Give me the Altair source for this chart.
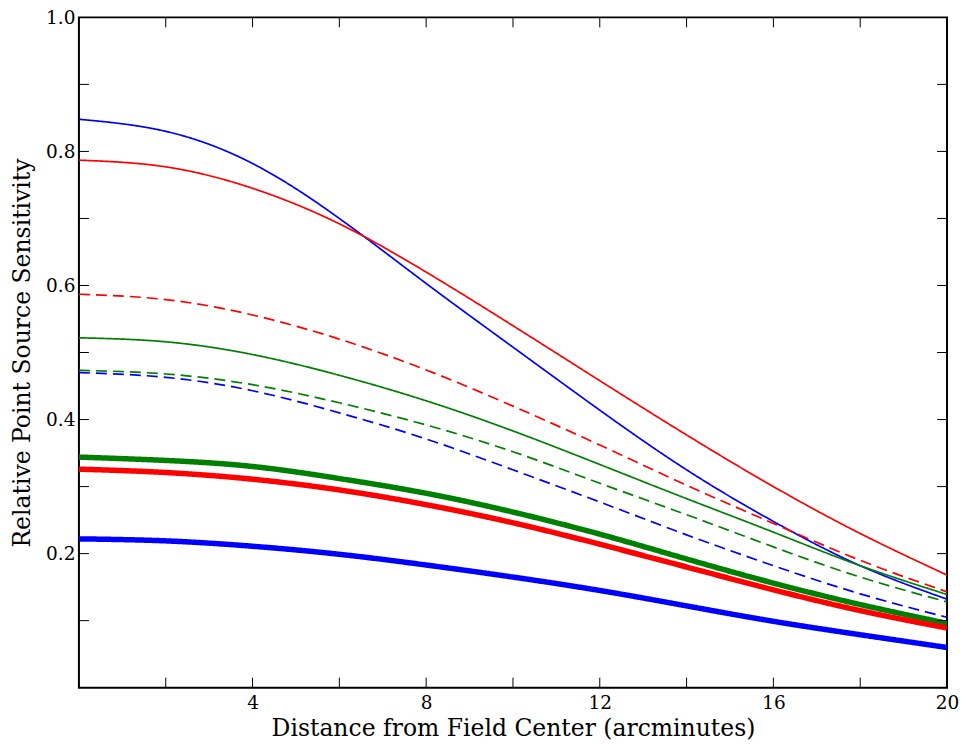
import altair as alt
import pandas as pd

# x positions (arcminutes)
xs = [0, 2, 4, 6, 8, 10, 12, 14, 16, 18, 20]

blue_thin   = [0.848, 0.830, 0.782, 0.700, 0.603, 0.508, 0.414, 0.325, 0.248, 0.182, 0.132]
red_thin    = [0.787, 0.777, 0.745, 0.692, 0.620, 0.540, 0.458, 0.377, 0.300, 0.230, 0.168]
red_dash    = [0.587, 0.579, 0.556, 0.520, 0.474, 0.420, 0.362, 0.302, 0.245, 0.190, 0.143]
green_thin  = [0.522, 0.516, 0.497, 0.466, 0.428, 0.383, 0.333, 0.282, 0.232, 0.182, 0.139]
green_dash  = [0.4735, 0.468, 0.452, 0.425, 0.392, 0.352, 0.305, 0.258, 0.210, 0.165, 0.128]
blue_dash   = [0.470, 0.463, 0.443, 0.410, 0.371, 0.325, 0.277, 0.228, 0.182, 0.140, 0.105]
green_thick = [0.344, 0.339, 0.330, 0.312, 0.290, 0.262, 0.229, 0.192, 0.156, 0.124, 0.096]
red_thick   = [0.326, 0.321, 0.311, 0.295, 0.273, 0.246, 0.214, 0.180, 0.146, 0.115, 0.089]
blue_thick  = [0.222, 0.219, 0.211, 0.199, 0.183, 0.165, 0.145, 0.122, 0.099, 0.079, 0.060]

series_names = ["blue_thin", "red_thin", "red_dash", "green_thin", "green_dash",
                "blue_dash", "green_thick", "red_thick", "blue_thick"]
series_vals = [blue_thin, red_thin, red_dash, green_thin, green_dash,
               blue_dash, green_thick, red_thick, blue_thick]
series_colors = ["#0000ff", "#ff0000", "#ff0000", "#008000", "#008000",
                 "#0000ff", "#008000", "#ff0000", "#0000ff"]
series_dash = [[1, 0], [1, 0], [11, 6], [1, 0], [11, 6], [11, 6], [1, 0], [1, 0], [1, 0]]
thin_series = ["blue_thin", "red_thin", "red_dash", "green_thin", "green_dash", "blue_dash"]
thick_series = ["green_thick", "red_thick", "blue_thick"]

x_labels = [4, 8, 12, 16, 20]
y_labels = [0.2, 0.4, 0.6, 0.8, 1.0]
x_ticks = [2, 4, 6, 8, 10, 12, 14, 16, 18]
y_ticks = [0.1, 0.2, 0.3, 0.4, 0.5, 0.6, 0.7, 0.8, 0.9]

rows = []
for i, (name, vals) in enumerate(zip(series_names, series_vals)):
    for x, y in zip(xs, vals):
        rows.append({"x": x, "y": y, "series": name, "order": i})
df = pd.DataFrame(rows)

W, H = 869, 671
FONT = "DejaVu Serif"

xscale = alt.Scale(domain=[0, 20], nice=False, zero=False)
yscale = alt.Scale(domain=[0, 1], nice=False, zero=False)

xaxis = alt.Axis(values=x_labels, title="Distance from Field Center (arcminutes)",
                 tickSize=0, domain=False, grid=False, labelFont=FONT, labelFontSize=18.5,
                 labelColor="black", labelPadding=6, titleFont=FONT, titleFontSize=23.5,
                 titleFontWeight="normal", titleColor="black", titlePadding=4,
                 labelFlush=False)
yaxis = alt.Axis(values=y_labels, title="Relative Point Source Sensitivity",
                 tickSize=0, domain=False, grid=False, labelFont=FONT, labelFontSize=18.5,
                 labelColor="black", labelPadding=4, titleFont=FONT, titleFontSize=23.5,
                 titleFontWeight="normal", titleColor="black", titlePadding=11,
                 format=".1f", labelFlush=False)

color_enc = alt.Color("series:N", scale=alt.Scale(domain=series_names, range=series_colors), legend=None)
dash_enc = alt.StrokeDash("series:N", scale=alt.Scale(domain=series_names, range=series_dash), legend=None)

base = alt.Chart(df).encode(
    x=alt.X("x:Q", scale=xscale, axis=xaxis),
    y=alt.Y("y:Q", scale=yscale, axis=yaxis),
    color=color_enc,
    strokeDash=dash_enc,
    order=alt.Order("order:Q"),
)

thin = base.transform_filter(
    alt.FieldOneOfPredicate(field="series", oneOf=thin_series)
).mark_line(interpolate="natural", clip=True, strokeWidth=1.7)

thick = base.transform_filter(
    alt.FieldOneOfPredicate(field="series", oneOf=thick_series)
).mark_line(interpolate="natural", clip=True, strokeWidth=5.5)

ydf = pd.DataFrame({"v": y_ticks})
xdf = pd.DataFrame({"v": x_ticks})

ytick_l = alt.Chart(ydf).mark_rule(color="black", strokeWidth=1).encode(
    y=alt.Y("v:Q", scale=yscale, axis=yaxis), x=alt.value(0), x2=alt.value(10))
ytick_r = alt.Chart(ydf).mark_rule(color="black", strokeWidth=1).encode(
    y=alt.Y("v:Q", scale=yscale, axis=yaxis), x=alt.value(W - 10), x2=alt.value(W))
xtick_b = alt.Chart(xdf).mark_rule(color="black", strokeWidth=1).encode(
    x=alt.X("v:Q", scale=xscale, axis=xaxis), y=alt.value(H - 10), y2=alt.value(H))
xtick_t = alt.Chart(xdf).mark_rule(color="black", strokeWidth=1).encode(
    x=alt.X("v:Q", scale=xscale, axis=xaxis), y=alt.value(0), y2=alt.value(10))

chart = alt.layer(thin, thick, ytick_l, ytick_r, xtick_b, xtick_t).properties(
    width=W, height=H,
    autosize=alt.AutoSizeParams(type="none"),
    padding={"left": 71, "top": 9, "right": 14, "bottom": 54},
    background="white",
).configure_view(stroke="black", strokeWidth=2)

chart.save("out.html", embed_options={"renderer": "svg", "actions": False})
